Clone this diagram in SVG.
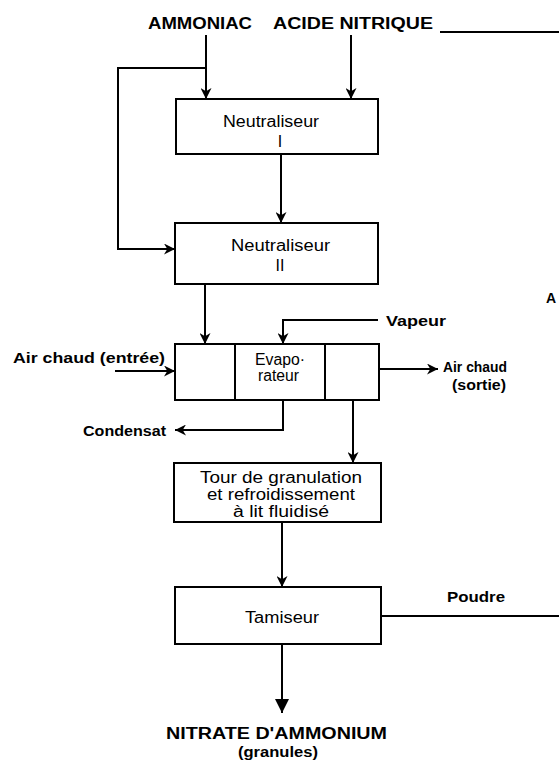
<svg xmlns="http://www.w3.org/2000/svg" width="559" height="762" viewBox="0 0 559 762">
  <style>
    .box { fill: #fff; stroke: #000; stroke-width: 2; }
    .flow { fill: none; stroke: #000; stroke-width: 2; }
    .in { font-family: "Liberation Sans", Arial, sans-serif; font-size: 16px; fill: #000; }
    .lbl { font-family: "Liberation Sans", Arial, sans-serif; font-size: 14px; font-weight: bold; fill: #000; }
    .big { font-family: "Liberation Sans", Arial, sans-serif; font-size: 16px; font-weight: bold; fill: #000; }
  </style>
  <defs>
    <marker id="arr" viewBox="0 0 10 10" refX="10" refY="5" markerWidth="11" markerHeight="11" markerUnits="userSpaceOnUse" orient="auto">
      <path d="M0,0 L10,5 L0,10 L3,5 z" fill="#000"/>
    </marker>
    <marker id="arrBig" viewBox="0 0 10 10" refX="10" refY="5" markerWidth="14" markerHeight="14" markerUnits="userSpaceOnUse" orient="auto">
      <path d="M0,0 L10,5 L0,10 z" fill="#000"/>
    </marker>
  </defs>

  <rect width="559" height="762" fill="#fff"/>

  <!-- feed labels -->
  <g id="feeds">
    <text class="big" x="148" y="29" textLength="104" lengthAdjust="spacingAndGlyphs">AMMONIAC</text>
    <text class="big" x="273" y="29" textLength="160" lengthAdjust="spacingAndGlyphs">ACIDE NITRIQUE</text>
  </g>

  <!-- flow lines -->
  <g id="connectors">
    <path class="flow" d="M206,35 V99" marker-end="url(#arr)"/>
    <path class="flow" d="M206,68 H118 V249 H175" marker-end="url(#arr)"/>
    <path class="flow" d="M351,35 V99" marker-end="url(#arr)"/>
    <path class="flow" d="M440,32 H559"/>
    <path class="flow" d="M281,154 V223" marker-end="url(#arr)"/>
    <path class="flow" d="M205,284 V344" marker-end="url(#arr)"/>
    <path class="flow" d="M378,320 H283 V344" marker-end="url(#arr)"/>
    <path class="flow" d="M115,371 H175" marker-end="url(#arr)"/>
    <path class="flow" d="M379,369 H438" marker-end="url(#arr)"/>
    <path class="flow" d="M283,400 V430 H175" marker-end="url(#arr)"/>
    <path class="flow" d="M353,400 V463" marker-end="url(#arr)"/>
    <path class="flow" d="M282,522 V587" marker-end="url(#arr)"/>
    <path class="flow" d="M381,616 H559"/>
    <path class="flow" d="M282,644 V713" stroke-width="2.5" marker-end="url(#arrBig)"/>
  </g>

  <g id="neutraliseur1">
    <rect class="box" x="176" y="99" width="202" height="55"/>
    <text class="in" x="223" y="127" textLength="96" lengthAdjust="spacingAndGlyphs">Neutraliseur</text>
    <text class="in" x="280" y="147" text-anchor="middle">I</text>
  </g>

  <g id="neutraliseur2">
    <rect class="box" x="175" y="223" width="203" height="61"/>
    <text class="in" x="231" y="251" textLength="99" lengthAdjust="spacingAndGlyphs">Neutraliseur</text>
    <text class="in" x="280" y="271" text-anchor="middle">II</text>
  </g>

  <g id="evaporateur">
    <rect class="box" x="175" y="344" width="204" height="56"/>
    <path class="flow" d="M235,344 V400 M325,344 V400"/>
    <text class="in" x="255" y="365" textLength="50" lengthAdjust="spacingAndGlyphs">Evapo·</text>
    <text class="in" x="258" y="381" textLength="41" lengthAdjust="spacingAndGlyphs">rateur</text>
  </g>

  <g id="tour">
    <rect class="box" x="174" y="463" width="207" height="59"/>
    <text class="in" x="200" y="483" textLength="162" lengthAdjust="spacingAndGlyphs">Tour de granulation</text>
    <text class="in" x="207" y="500" textLength="148" lengthAdjust="spacingAndGlyphs">et refroidissement</text>
    <text class="in" x="233" y="517" textLength="96" lengthAdjust="spacingAndGlyphs">à lit fluidisé</text>
  </g>

  <g id="tamiseur">
    <rect class="box" x="175" y="587" width="206" height="57"/>
    <text class="in" x="245" y="623" textLength="74" lengthAdjust="spacingAndGlyphs">Tamiseur</text>
  </g>

  <!-- stream labels -->
  <g id="labels">
    <text class="lbl" x="386" y="326" textLength="60" lengthAdjust="spacingAndGlyphs">Vapeur</text>
    <text class="lbl" x="13" y="363" textLength="152" lengthAdjust="spacingAndGlyphs">Air chaud (entrée)</text>
    <text class="lbl" x="443" y="372" textLength="64" lengthAdjust="spacingAndGlyphs">Air chaud</text>
    <text class="lbl" x="452" y="390" textLength="54" lengthAdjust="spacingAndGlyphs">(sortie)</text>
    <text class="lbl" x="83" y="436" textLength="83" lengthAdjust="spacingAndGlyphs">Condensat</text>
    <text class="lbl" x="447" y="602" textLength="58" lengthAdjust="spacingAndGlyphs">Poudre</text>
    <text class="lbl" x="546" y="303">A</text>
  </g>

  <g id="produit">
    <text class="big" x="166" y="739" textLength="221" lengthAdjust="spacingAndGlyphs">NITRATE D'AMMONIUM</text>
    <text class="lbl" x="238" y="757" textLength="80" lengthAdjust="spacingAndGlyphs">(granules)</text>
  </g>
</svg>
